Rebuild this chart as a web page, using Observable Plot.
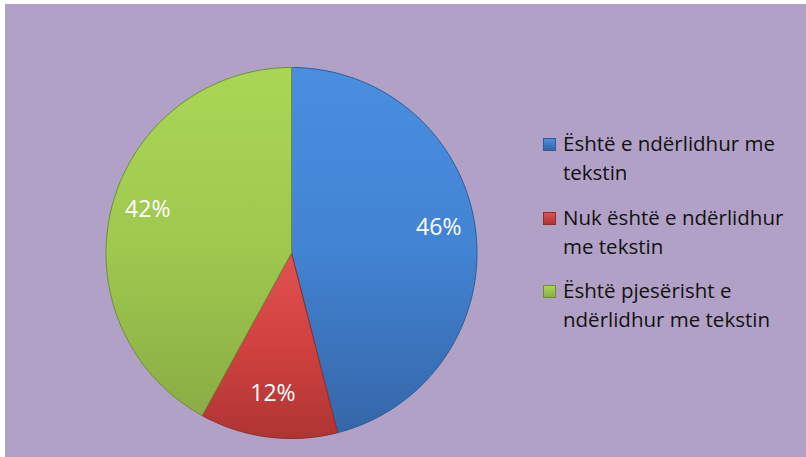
<!DOCTYPE html>
<html>
<head>
<meta charset="utf-8">
<script src="https://cdn.jsdelivr.net/npm/d3@7"></script>
<script src="https://cdn.jsdelivr.net/npm/@observablehq/plot@0.6"></script>
<style>
  html, body { margin: 0; padding: 0; background: #ffffff; }
  #frame { position: absolute; left: 5px; top: 4px; width: 801px; height: 453px; background: #b1a1c7; overflow: hidden; }
  #chart { position: absolute; left: 0; top: 0; }
  .lg { position: absolute; font-family: "Open Sans", Lato, sans-serif; font-size: 20.5px; color: #111; white-space: nowrap; line-height: 1; }
  .mk { position: absolute; width: 13px; height: 13px; box-sizing: border-box; }
</style>
</head>
<body>
<div id="frame"><div id="chart"></div></div>
<script>
// Data
const categories = ["Është e ndërlidhur me tekstin", "Nuk është e ndërlidhur me tekstin", "Është pjesërisht e ndërlidhur me tekstin"];
const values = [46, 12, 42];
const labels = ["46%", "12%", "42%"];
const legendLines = [["Është e ndërlidhur me", "tekstin"], ["Nuk është e ndërlidhur", "me tekstin"], ["Është pjesërisht e", "ndërlidhur me tekstin"]];
const colors = ["#4283d3", "#d0413f", "#9fc94f"];
const topColors = ["#4a8ee0", "#e0524f", "#aad655"];
const bottomColors = ["#3566a8", "#ae3533", "#8aad44"];
const edgeColors = ["#2f5c95", "#8f2d2b", "#6f8c36"];

// Build wedges from the values
const total = d3.sum(values);
const wedges = [];
const labelPts = [];
let acc = 0;
values.forEach((v, i) => {
  const a0 = acc / total * 2 * Math.PI;
  const a1 = (acc + v) / total * 2 * Math.PI;
  acc += v;
  const pts = [{x: 0, y: 0, k: i}];
  const n = Math.max(2, Math.ceil((a1 - a0) / (Math.PI / 180)));
  for (let j = 0; j <= n; j++) {
    const a = a0 + (a1 - a0) * j / n;
    pts.push({x: Math.sin(a), y: Math.cos(a), k: i});
  }
  pts.push({x: 0, y: 0, k: i});
  wedges.push(pts);
  const am = (a0 + a1) / 2;
  labelPts.push({x: 0.8 * Math.sin(am), y: 0.8 * Math.cos(am) + 0.035, label: labels[i]});
});

const cx = 286, cy = 248.5, R = 185.5;
const marks = wedges.map((pts, i) => Plot.line(pts, {x: "x", y: "y", fill: `url(#grad${i})`, stroke: edgeColors[i], strokeWidth: 1, curve: "linear"}));
marks.push(Plot.text(labelPts, {x: "x", y: "y", text: "label", fill: "white", fontSize: 23, fontFamily: "'Open Sans', Lato, sans-serif"}));

const plot = Plot.plot({
  width: 801, height: 453,
  margin: 0,
  style: {background: "transparent", overflow: "visible"},
  x: {domain: [-1, 1], range: [cx - R, cx + R], axis: null},
  y: {domain: [-1, 1], range: [cy + R, cy - R], axis: null},
  marks
});

// gradient defs
const ns = "http://www.w3.org/2000/svg";
const defs = document.createElementNS(ns, "defs");
colors.forEach((c, i) => {
  const g = document.createElementNS(ns, "linearGradient");
  g.setAttribute("id", `grad${i}`);
  g.setAttribute("x1", "0"); g.setAttribute("y1", "0"); g.setAttribute("x2", "0"); g.setAttribute("y2", "1");
  [[0, topColors[i]], [0.5, c], [1, bottomColors[i]]].forEach(([o, col]) => {
    const s = document.createElementNS(ns, "stop");
    s.setAttribute("offset", o); s.setAttribute("stop-color", col);
    g.appendChild(s);
  });
  defs.appendChild(g);
});
plot.insertBefore(defs, plot.firstChild);
document.getElementById("chart").appendChild(plot);

// legend
const frame = document.getElementById("frame");
const baselines = [[148, 177], [222, 251], [295, 324]];
legendLines.forEach((lines, i) => {
  const m = document.createElement("div");
  m.className = "mk";
  m.style.left = "538px";
  m.style.top = (baselines[i][0] - 14) + "px";
  m.style.background = `linear-gradient(to bottom, ${topColors[i]}, ${bottomColors[i]})`;
  m.style.border = `1px solid ${edgeColors[i]}`;
  frame.appendChild(m);
  lines.forEach((t, j) => {
    const s = document.createElement("div");
    s.className = "lg";
    s.textContent = t;
    s.style.left = "558px";
    s.style.top = (baselines[i][j] - 19) + "px";
    frame.appendChild(s);
  });
});
</script>
</body>
</html>
